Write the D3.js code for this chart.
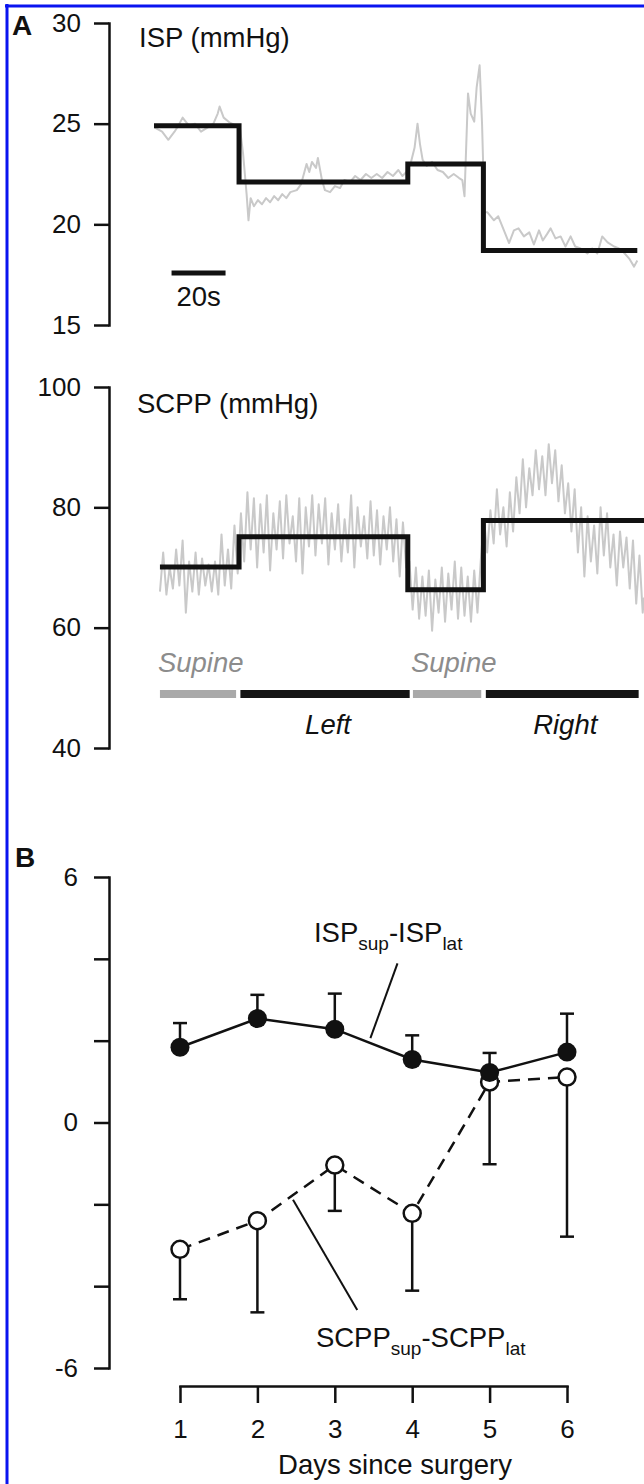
<!DOCTYPE html>
<html><head><meta charset="utf-8">
<script src="https://cdn.jsdelivr.net/npm/d3@7"></script>
<style>
html,body{margin:0;padding:0;background:#fff;}
svg{display:block;font-family:"Liberation Sans",Arial,Helvetica,sans-serif;}
</style></head><body>
<svg id="c" width="644" height="1484"></svg>
<script>
// ---------- Panel A data ----------
const ispTicks = [15, 20, 25, 30];
const scppTicks = [40, 60, 80, 100];

// step (mean) levels, times in s
const stepTimes = [0, 31.5, 94, 122, 179];
const ispSteps = [24.9, 22.1, 23.0, 18.7];
const scppStepTimes = [2.2, 31.5, 94, 122, 182];
const scppSteps = [70.1, 75.1, 66.3, 77.8];

// raw ISP trace
const ispTraceT = [0.3,3,5.3,7.6,9,10.6,12.9,15.2,17.4,19.8,22,23.6,24.3,25.8,28.1,30.4,31.9,33,34.3,35,35.8,37,38.5,40,41.5,43,44.5,46,47.5,49,50.5,52.9,54.5,56.5,57.5,58.5,60,60.7,62.2,63.3,65.2,67,68.9,70.5,72.6,74.5,76.5,78.5,80.5,82.5,84.5,86.5,88.5,90.5,92,93.5,95,96.5,97.6,98.5,99.5,101,103,105,107,109,111,113,114.2,115,116.3,117.3,118.6,119.5,120.6,121.5,122.4,123.5,125.9,127.5,129.6,131.5,133.3,135,137,139,140.7,142.6,144,145.5,146.9,148.7,150.6,152.4,154.3,156,158,160.5,162.3,164.2,166,168,170.4,172.2,174,176,177.8,179];
const ispTraceV = [24.8,24.6,24.2,24.6,24.9,25.3,24.9,25.0,24.6,24.8,25.0,25.5,25.85,25.3,25.05,24.9,24.7,23.5,21.5,20.2,21.3,20.9,21.2,21.0,21.3,21.1,21.4,21.2,21.5,21.3,21.6,21.7,22.0,23.0,22.6,23.1,22.8,23.3,22.2,21.7,21.6,21.9,21.8,22.2,22.1,22.4,22.2,22.5,22.3,22.5,22.3,22.6,22.4,22.7,22.4,22.6,23.0,23.8,25.0,24.0,23.2,22.9,23.1,22.7,22.6,22.3,22.5,22.3,22.2,21.4,26.5,25.5,25.1,26.8,27.9,25.0,20.6,20.6,20.2,20.4,19.7,19.07,19.7,19.8,19.4,19.6,19.0,19.7,19.2,19.5,19.8,19.3,19.4,18.9,19.4,18.9,18.8,18.55,18.8,18.55,19.4,19.1,18.9,18.8,18.6,18.3,17.9,18.2];

// raw SCPP trace
const scppTraceT = [2.2,3.4,4.6,5.8,7,8.2,9.4,10.6,11.8,13,14.2,15.4,16.6,17.8,19,20.2,21.4,22.6,23.8,25,26.2,27.4,28.6,29.8,31,
32.2,33.4,34.6,35.8,37,38.2,39.4,40.6,41.8,43,44.2,45.4,46.6,47.8,49,50.2,51.4,52.6,53.8,55,56.2,57.4,58.6,59.8,61,62.2,63.4,64.6,65.8,67,68.2,69.4,70.6,71.8,73,74.2,75.4,76.6,77.8,79,80.2,81.4,82.6,83.8,85,86.2,87.4,88.6,89.8,91,92.2,93.4,
94.6,95.8,97,98.2,99.4,100.6,101.8,103,104.2,105.4,106.6,107.8,109,110.2,111.4,112.6,113.8,115,116.2,117.4,118.6,119.8,121,
122.2,123.4,124.6,125.8,127,128.2,129.4,130.6,131.8,133,134.2,135.4,136.6,137.8,139,140.2,141.4,142.6,143.8,145,146.2,147.4,148.6,149.8,151,152.2,153.4,154.6,155.8,157,158.2,159.4,160.6,161.8,163,164.2,165.4,166.6,167.8,169,170.2,171.4,172.6,173.8,175,176.2,177.4,178.6,179.8,181,181.8];
const scppTraceV = [66,72.5,65.5,70,66.5,73,67,74.5,62.5,71,66,72.5,65.5,71.5,67,70.5,66,71,65.5,75.5,67,73,66.5,77,69,
79,71,82.5,73,81.5,70,80.5,72.5,82,69.5,79,73,81,71.5,82,74,78.5,71,81.5,69,80,73.5,82,72,80.5,74,81.5,70.5,79,73,80.5,71,78,72.5,82,70,80,73.5,78.5,71.5,81,72,79.5,70.5,78.5,73,80,71,78,68.5,77.5,70,
71,63,70,61.5,68.5,62,69.5,59.5,68,62.5,70,61,69,63,71,61.5,70,62,68.5,61,69.5,62.5,71,
78,72.5,79.5,74,83,75.5,80,73.5,82.5,76,85,79,88,80,86.5,82,89.5,83,88.5,82,90.5,84,89.5,81,87,79,84,76,83,72.5,80,68.5,78.5,71,77,69,80,72,79,70,75.5,67,76,70,75,66.5,74.5,64,72,62.5,65];

// body position periods
const posLabels = ["Supine", "Left", "Supine", "Right"];
const posStart = [2.2, 32, 95.9, 122.9];
const posEnd = [30.4, 94.7, 121.2, 179.5];
const posLying = [false, true, false, true];
const scaleBarSeconds = [6.5, 26.5];

// ---------- Panel B data ----------
const days = [1, 2, 3, 4, 5, 6];
const diffTicks = [-6, -4, -2, 0, 2, 4, 6];
const diffLabeled = [-6, 0, 6];
const ispDiff = [1.84, 2.54, 2.28, 1.54, 1.22, 1.72];
const ispDiffErr = [0.59, 0.58, 0.87, 0.59, 0.48, 0.94];
const scppDiff = [-3.10, -2.40, -1.04, -2.22, 0.99, 1.11];
const scppDiffErr = [1.22, 2.24, 1.12, 1.89, 2.01, 3.90];

// ---------- drawing ----------
const svg = d3.select("#c");
const FS = 26;     // tick labels
const LFS = 27.5;  // other text

// blue frame
svg.append("line").attr("x1",7).attr("x2",7).attr("y1",4).attr("y2",1484).attr("stroke","#0a14f0").attr("stroke-width",3);
svg.append("line").attr("x1",5).attr("x2",644).attr("y1",6).attr("y2",6).attr("stroke","#0a14f0").attr("stroke-width",3);

const tX = d3.scaleLinear().domain([0, 180]).range([154, 640]);
const ispY = d3.scaleLinear().domain([15, 30]).range([325, 23]);
const scppY = d3.scaleLinear().domain([40, 100]).range([748, 387]);
const dayX = d3.scaleLinear().domain([1, 6]).range([180, 567]);
const diffY = d3.scaleLinear().domain([-6, 6]).range([1368, 877]);

function styleAxis(g){
  g.selectAll("path.domain").attr("stroke","#111").attr("stroke-width",2.5).attr("stroke-linecap","square");
  g.selectAll(".tick line").attr("stroke","#111").attr("stroke-width",2.5);
  g.selectAll(".tick text").attr("font-size",FS).attr("fill","#111").attr("font-family",'"Liberation Sans",Arial,sans-serif');
}

// ISP axis
svg.append("g").attr("transform","translate(109,0)")
  .call(d3.axisLeft(ispY).tickValues(ispTicks).tickSize(15).tickPadding(13).tickSizeOuter(0).tickFormat(d=>String(d)))
  .call(styleAxis);
// SCPP axis
svg.append("g").attr("transform","translate(109,0)")
  .call(d3.axisLeft(scppY).tickValues(scppTicks).tickSize(15).tickPadding(13).tickSizeOuter(0).tickFormat(d=>String(d)))
  .call(styleAxis);

// panel letters & titles
svg.append("text").attr("x",12).attr("y",35).attr("font-size",28).attr("font-weight","bold").attr("fill","#111").text("A");
svg.append("text").attr("x",15).attr("y",867).attr("font-size",28).attr("font-weight","bold").attr("fill","#111").text("B");
svg.append("text").attr("x",139).attr("y",47).attr("font-size",LFS).attr("fill","#111").text("ISP (mmHg)");
svg.append("text").attr("x",137).attr("y",413).attr("font-size",LFS).attr("fill","#111").text("SCPP (mmHg)");

// traces
const ispTrace = ispTraceT.map((t,i)=>[t, ispTraceV[i]]);
const scppTrace = scppTraceT.map((t,i)=>[t, scppTraceV[i]]);
svg.append("path").datum(ispTrace)
  .attr("d", d3.line().x(d=>tX(d[0])).y(d=>ispY(d[1])))
  .attr("fill","none").attr("stroke","#c9c9c9").attr("stroke-width",2).attr("stroke-linejoin","round");
svg.append("path").datum(scppTrace)
  .attr("d", d3.line().x(d=>Math.min(644,tX(d[0]))).y(d=>scppY(d[1])))
  .attr("fill","none").attr("stroke","#c9c9c9").attr("stroke-width",2).attr("stroke-linejoin","round");

// step lines
const ispStepPts = stepTimes.map((t,i)=>[t, ispSteps[Math.min(i, ispSteps.length-1)]]);
const scppStepPts = scppStepTimes.map((t,i)=>[t, scppSteps[Math.min(i, scppSteps.length-1)]]);
svg.append("path").datum(ispStepPts)
  .attr("d", d3.line().curve(d3.curveStepAfter).x(d=>tX(d[0])).y(d=>ispY(d[1])))
  .attr("fill","none").attr("stroke","#111").attr("stroke-width",5).attr("stroke-linejoin","miter");
svg.append("path").datum(scppStepPts)
  .attr("d", d3.line().curve(d3.curveStepAfter).x(d=>tX(d[0])).y(d=>scppY(d[1])))
  .attr("fill","none").attr("stroke","#111").attr("stroke-width",5).attr("stroke-linejoin","miter");

// 20 s scale bar
svg.append("line").attr("x1",tX(scaleBarSeconds[0])).attr("x2",tX(scaleBarSeconds[1]))
  .attr("y1",273).attr("y2",273).attr("stroke","#111").attr("stroke-width",5);
svg.append("text").attr("x",(tX(scaleBarSeconds[0])+tX(scaleBarSeconds[1]))/2).attr("y",306)
  .attr("text-anchor","middle").attr("font-size",LFS).attr("fill","#111").text("20s");

// body position bars
posLabels.forEach((lab,i)=>{
  const x1 = tX(posStart[i]), x2 = tX(posEnd[i]);
  svg.append("line").attr("x1",x1).attr("x2",x2).attr("y1",694).attr("y2",694)
    .attr("stroke", posLying[i] ? "#151515" : "#a9a9a9").attr("stroke-width",8);
  if(posLying[i]){
    svg.append("text").attr("x",(x1+x2)/2+3).attr("y",734).attr("text-anchor","middle")
      .attr("font-size",LFS).attr("font-style","italic").attr("fill","#111").text(lab);
  } else {
    svg.append("text").attr("x",x1-2).attr("y",672)
      .attr("font-size",LFS).attr("font-style","italic").attr("fill","#8c8c8c").text(lab);
  }
});

// ---------- Panel B ----------
svg.append("g").attr("transform","translate(109,0)")
  .call(d3.axisLeft(diffY).tickValues(diffTicks).tickSize(15).tickPadding(16).tickSizeOuter(0)
    .tickFormat(d=> diffLabeled.includes(d) ? String(d) : ""))
  .call(styleAxis);
svg.append("g").attr("transform","translate(0,1386)")
  .call(d3.axisBottom(dayX).tickValues(days).tickSize(17).tickPadding(17).tickSizeOuter(0).tickFormat(d=>String(d)))
  .call(styleAxis);
svg.append("text").attr("x",395).attr("y",1474).attr("text-anchor","middle").attr("font-size",LFS).attr("fill","#111").text("Days since surgery");

const ink = "#111";
// SCPP dashed line
svg.append("path").datum(days.map((d,i)=>[d, scppDiff[i]]))
  .attr("d", d3.line().x(d=>dayX(d[0])).y(d=>diffY(d[1])))
  .attr("fill","none").attr("stroke",ink).attr("stroke-width",2.5).attr("stroke-dasharray","12,8");
// SCPP error bars (downward)
days.forEach((d,i)=>{
  const x = dayX(d), y0 = diffY(scppDiff[i]), y1 = diffY(scppDiff[i]-scppDiffErr[i]);
  svg.append("line").attr("x1",x).attr("x2",x).attr("y1",y0).attr("y2",y1).attr("stroke",ink).attr("stroke-width",2.5);
  svg.append("line").attr("x1",x-7).attr("x2",x+7).attr("y1",y1).attr("y2",y1).attr("stroke",ink).attr("stroke-width",2.5);
});
// open circles
svg.selectAll("circle.open").data(days).enter().append("circle").attr("class","open")
  .attr("cx",d=>dayX(d)).attr("cy",(d,i)=>diffY(scppDiff[i])).attr("r",8.5)
  .attr("fill","#fff").attr("stroke",ink).attr("stroke-width",2.5);

// ISP solid line
svg.append("path").datum(days.map((d,i)=>[d, ispDiff[i]]))
  .attr("d", d3.line().x(d=>dayX(d[0])).y(d=>diffY(d[1])))
  .attr("fill","none").attr("stroke",ink).attr("stroke-width",2.5);
// ISP error bars (upward)
days.forEach((d,i)=>{
  const x = dayX(d), y0 = diffY(ispDiff[i]), y1 = diffY(ispDiff[i]+ispDiffErr[i]);
  svg.append("line").attr("x1",x).attr("x2",x).attr("y1",y0).attr("y2",y1).attr("stroke",ink).attr("stroke-width",2.5);
  svg.append("line").attr("x1",x-7).attr("x2",x+7).attr("y1",y1).attr("y2",y1).attr("stroke",ink).attr("stroke-width",2.5);
});
svg.selectAll("circle.filled").data(days).enter().append("circle").attr("class","filled")
  .attr("cx",d=>dayX(d)).attr("cy",(d,i)=>diffY(ispDiff[i])).attr("r",9.5)
  .attr("fill",ink);

// annotations (in data units)
const ispNote = {x: 3.69, y: 4.42, from: [3.81, 3.89], to: [3.46, 2.06]};
const scppNote = {x: 4.11, y: -5.49, from: [2.46, -1.89], to: [3.29, -4.58]};
[ispNote, scppNote].forEach(n=>{
  svg.append("line").attr("x1",dayX(n.from[0])).attr("y1",diffY(n.from[1]))
    .attr("x2",dayX(n.to[0])).attr("y2",diffY(n.to[1])).attr("stroke",ink).attr("stroke-width",2);
});
function subLabel(note, base){
  const t = svg.append("text").attr("x",dayX(note.x)).attr("y",diffY(note.y)).attr("text-anchor","middle")
    .attr("font-size",LFS).attr("fill",ink);
  t.append("tspan").text(base);
  t.append("tspan").attr("font-size",19).attr("dy",8).text("sup");
  t.append("tspan").attr("dy",-8).text("-" + base);
  t.append("tspan").attr("font-size",19).attr("dy",8).text("lat");
}
subLabel(ispNote, "ISP");
subLabel(scppNote, "SCPP");
</script>
</body></html>
